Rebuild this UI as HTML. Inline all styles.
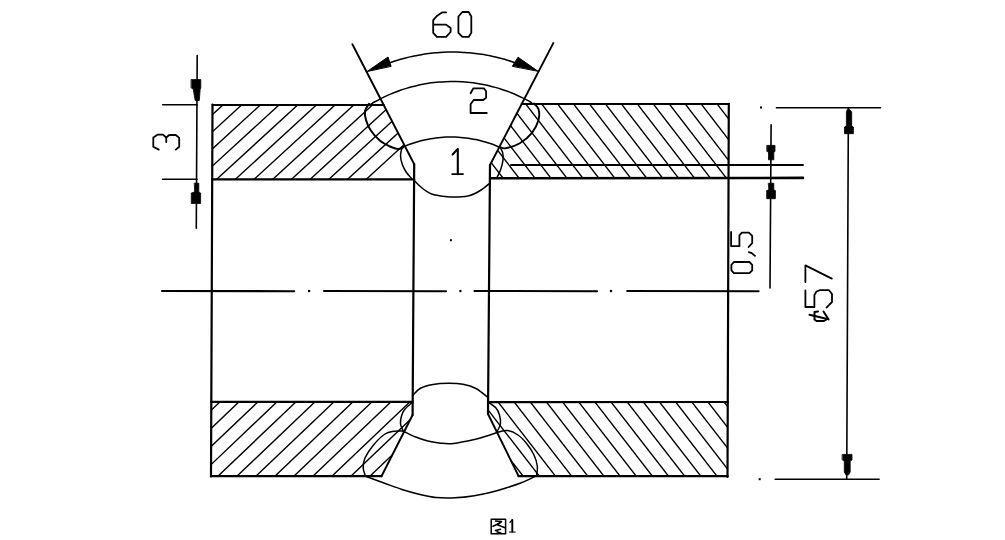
<!DOCTYPE html>
<html><head><meta charset="utf-8"><style>
html,body{margin:0;padding:0;background:#fff;width:1005px;height:540px;overflow:hidden;font-family:"Liberation Sans",sans-serif;}
svg{display:block;}
</style></head><body>
<svg width="1005" height="540" viewBox="0 0 1005 540">
<defs><clipPath id="ctl"><path d="M212.50,105.00 L383.71,105.00 L414.20,164.20 L414.20,179.40 L212.30,179.40 Z"/></clipPath><clipPath id="ctr"><path d="M521.57,104.20 L728.80,104.20 L728.60,178.20 L490.00,178.20 L490.00,165.00 Z"/></clipPath><clipPath id="cbl"><path d="M211.20,402.20 L412.60,402.20 L412.60,415.00 L381.50,476.00 L210.90,476.00 Z"/></clipPath><clipPath id="cbr"><path d="M488.00,402.30 L727.80,402.30 L727.60,476.00 L518.60,476.00 L488.00,414.00 Z"/></clipPath></defs>
<g fill="none" stroke="#000" stroke-width="2.0" stroke-linecap="round" stroke-linejoin="round">
<path clip-path="url(#ctl)" stroke-width="1.4" d="M116.11,100.00 L23.46,185.00 M134.81,100.00 L42.16,185.00 M153.51,100.00 L60.86,185.00 M172.21,100.00 L79.56,185.00 M190.91,100.00 L98.25,185.00 M209.61,100.00 L116.96,185.00 M228.31,100.00 L135.66,185.00 M247.00,100.00 L154.35,185.00 M265.70,100.00 L173.06,185.00 M284.40,100.00 L191.75,185.00 M303.10,100.00 L210.45,185.00 M321.80,100.00 L229.15,185.00 M340.50,100.00 L247.86,185.00 M359.20,100.00 L266.56,185.00 M377.90,100.00 L285.25,185.00 M396.60,100.00 L303.95,185.00 M415.30,100.00 L322.65,185.00 M434.00,100.00 L341.36,185.00 M452.70,100.00 L360.05,185.00"/>
<path clip-path="url(#ctr)" stroke-width="1.4" d="M395.07,100.00 L460.52,185.00 M411.02,100.00 L476.47,185.00 M426.97,100.00 L492.42,185.00 M442.92,100.00 L508.37,185.00 M458.87,100.00 L524.32,185.00 M474.82,100.00 L540.27,185.00 M490.77,100.00 L556.22,185.00 M506.72,100.00 L572.17,185.00 M522.67,100.00 L588.12,185.00 M538.62,100.00 L604.07,185.00 M554.57,100.00 L620.02,185.00 M570.52,100.00 L635.97,185.00 M586.47,100.00 L651.92,185.00 M602.42,100.00 L667.87,185.00 M618.37,100.00 L683.82,185.00 M634.32,100.00 L699.77,185.00 M650.27,100.00 L715.72,185.00 M666.22,100.00 L731.67,185.00 M682.17,100.00 L747.62,185.00 M698.12,100.00 L763.57,185.00 M714.07,100.00 L779.52,185.00 M730.02,100.00 L795.47,185.00 M745.97,100.00 L811.42,185.00"/>
<path clip-path="url(#cbl)" stroke-width="1.4" d="M129.01,398.00 L42.91,480.00 M148.01,398.00 L61.91,480.00 M167.01,398.00 L80.91,480.00 M186.01,398.00 L99.91,480.00 M205.01,398.00 L118.91,480.00 M224.01,398.00 L137.91,480.00 M243.01,398.00 L156.91,480.00 M262.01,398.00 L175.91,480.00 M281.01,398.00 L194.91,480.00 M300.01,398.00 L213.91,480.00 M319.01,398.00 L232.91,480.00 M338.01,398.00 L251.91,480.00 M357.01,398.00 L270.91,480.00 M376.01,398.00 L289.91,480.00 M395.01,398.00 L308.91,480.00 M414.01,398.00 L327.91,480.00 M433.01,398.00 L346.91,480.00 M452.01,398.00 L365.91,480.00 M471.01,398.00 L384.91,480.00"/>
<path clip-path="url(#cbr)" stroke-width="1.4" d="M398.01,398.00 L461.56,480.00 M414.16,398.00 L477.71,480.00 M430.31,398.00 L493.86,480.00 M446.46,398.00 L510.01,480.00 M462.61,398.00 L526.16,480.00 M478.76,398.00 L542.31,480.00 M494.91,398.00 L558.46,480.00 M511.06,398.00 L574.61,480.00 M527.21,398.00 L590.76,480.00 M543.36,398.00 L606.91,480.00 M559.51,398.00 L623.06,480.00 M575.66,398.00 L639.21,480.00 M591.81,398.00 L655.36,480.00 M607.96,398.00 L671.51,480.00 M624.11,398.00 L687.66,480.00 M640.26,398.00 L703.81,480.00 M656.41,398.00 L719.96,480.00 M672.56,398.00 L736.11,480.00 M688.71,398.00 L752.26,480.00 M704.86,398.00 L768.41,480.00 M721.01,398.00 L784.56,480.00 M737.16,398.00 L800.71,480.00 M753.31,398.00 L816.86,480.00"/>
<path d="M212.50,104.50 L211.00,476.50" stroke-width="2.2"/>
<path d="M728.80,103.80 L727.50,477.00" stroke-width="2.2"/>
<path d="M212.50,105.00 L383.71,105.00" stroke-width="2.2"/>
<path d="M521.68,104.00 L728.80,104.00" stroke-width="2.2"/>
<path d="M212.30,179.40 L414.20,179.40" stroke-width="2.2"/>
<path d="M490.00,178.20 L803.00,177.90" stroke-width="2.6"/>
<path d="M511.00,165.00 L803.00,165.00" stroke-width="1.8"/>
<path d="M352.40,44.20 L414.20,164.20" stroke-width="1.9"/>
<path d="M553.30,43.10 L490.00,165.00" stroke-width="1.9"/>
<path d="M414.20,164.20 L412.60,415.00" stroke-width="2.2"/>
<path d="M490.00,165.00 L488.00,414.00" stroke-width="2.2"/>
<path d="M211.20,401.90 L412.60,401.90" stroke-width="2.2"/>
<path d="M488.00,402.10 L727.80,402.00" stroke-width="2.2"/>
<path d="M210.90,476.20 L381.50,476.20" stroke-width="2.2"/>
<path d="M518.60,476.20 L727.60,476.20" stroke-width="2.2"/>
<path d="M412.60,415.00 L381.50,476.20" stroke-width="1.9"/>
<path d="M488.00,414.00 L518.60,476.20" stroke-width="1.9"/>
<path d="M389.49,62.87 C390.16,62.64 392.17,61.94 393.51,61.49 C394.86,61.05 396.21,60.62 397.57,60.20 C398.93,59.79 400.29,59.39 401.65,59.01 C403.02,58.62 404.39,58.25 405.76,57.90 C407.14,57.55 408.52,57.21 409.90,56.89 C411.28,56.57 412.66,56.26 414.05,55.97 C415.44,55.68 416.83,55.41 418.23,55.15 C419.62,54.89 421.02,54.65 422.42,54.42 C423.82,54.19 425.22,53.98 426.63,53.79 C428.03,53.59 429.44,53.41 430.85,53.25 C432.26,53.09 433.67,52.94 435.08,52.81 C436.50,52.68 437.91,52.56 439.32,52.46 C440.74,52.36 442.16,52.28 443.57,52.21 C444.99,52.14 446.41,52.09 447.83,52.06 C449.24,52.02 450.66,52.00 452.08,52.00 C453.50,52.00 454.92,52.01 456.34,52.04 C457.75,52.07 459.17,52.11 460.59,52.17 C462.01,52.24 463.42,52.31 464.84,52.41 C466.25,52.50 467.67,52.61 469.08,52.73 C470.50,52.86 471.91,53.00 473.32,53.16 C474.73,53.31 476.13,53.49 477.54,53.68 C478.95,53.86 480.35,54.07 481.75,54.29 C483.15,54.51 484.55,54.75 485.95,55.00 C487.34,55.25 488.74,55.52 490.13,55.80 C491.52,56.09 492.90,56.39 494.29,56.70 C495.67,57.02 497.05,57.35 498.42,57.70 C499.80,58.04 501.17,58.40 502.54,58.78 C503.91,59.16 505.27,59.55 506.63,59.96 C507.99,60.37 509.34,60.79 510.69,61.23 C512.04,61.67 514.05,62.37 514.72,62.60" stroke-width="1.5"/>
<path d="M367.20,71.40 L388.00,57.00 L391.00,66.00 Z" stroke-width="1.0" fill="#000"/>
<path d="M537.80,71.10 L518.00,57.20 L512.50,66.00 Z" stroke-width="1.0" fill="#000"/>
<path d="M370.51,104.35 C371.33,103.88 373.74,102.44 375.38,101.53 C377.02,100.61 378.68,99.73 380.35,98.87 C382.02,98.02 383.71,97.20 385.41,96.40 C387.11,95.61 388.82,94.84 390.55,94.11 C392.27,93.38 394.02,92.67 395.77,92.00 C397.52,91.33 399.28,90.69 401.06,90.08 C402.83,89.47 404.62,88.89 406.42,88.35 C408.21,87.80 410.02,87.29 411.83,86.81 C413.64,86.33 415.47,85.88 417.30,85.46 C419.12,85.04 420.96,84.66 422.81,84.31 C424.65,83.95 426.50,83.64 428.35,83.35 C430.21,83.06 432.07,82.81 433.93,82.59 C435.79,82.37 437.66,82.18 439.53,82.03 C441.40,81.88 443.28,81.76 445.15,81.67 C447.02,81.58 448.90,81.53 450.78,81.51 C452.65,81.49 454.53,81.50 456.41,81.55 C458.28,81.59 460.16,81.67 462.03,81.79 C463.90,81.90 465.78,82.05 467.64,82.23 C469.51,82.40 471.38,82.62 473.24,82.86 C475.10,83.11 476.95,83.39 478.80,83.70 C480.65,84.01 482.50,84.35 484.34,84.73 C486.17,85.11 488.01,85.52 489.83,85.96 C491.65,86.40 493.47,86.88 495.28,87.38 C497.08,87.89 498.88,88.43 500.67,89.00 C502.46,89.57 504.24,90.17 506.00,90.80 C507.77,91.44 509.52,92.10 511.27,92.80 C513.01,93.49 514.74,94.22 516.46,94.98 C518.17,95.73 519.88,96.52 521.57,97.34 C523.25,98.16 524.93,99.00 526.59,99.88 C528.25,100.76 530.70,102.15 531.52,102.60" stroke-width="1.5"/>
<path d="M369.00,103.80 C368.33,105.00 365.50,108.30 365.00,111.00 C364.50,113.70 365.08,116.83 366.00,120.00 C366.92,123.17 368.20,126.57 370.50,130.00 C372.80,133.43 376.55,137.85 379.80,140.60 C383.05,143.35 386.97,145.10 390.00,146.50 C393.03,147.90 395.83,148.83 398.00,149.00 C400.17,149.17 402.17,147.75 403.00,147.50" stroke-width="2.0"/>
<path d="M534.00,103.60 C534.75,104.50 537.75,106.27 538.50,109.00 C539.25,111.73 539.58,116.03 538.50,120.00 C537.42,123.97 535.12,128.93 532.00,132.80 C528.88,136.67 524.20,140.62 519.80,143.20 C515.40,145.78 508.95,147.67 505.60,148.30 C502.25,148.93 500.68,147.22 499.70,147.00" stroke-width="1.9"/>
<path d="M401.98,147.45 C402.75,147.13 405.05,146.12 406.61,145.50 C408.16,144.88 409.74,144.29 411.32,143.74 C412.90,143.19 414.49,142.67 416.09,142.18 C417.70,141.69 419.31,141.24 420.93,140.82 C422.55,140.40 424.18,140.02 425.82,139.67 C427.46,139.32 429.11,139.00 430.76,138.72 C432.41,138.43 434.07,138.19 435.73,137.97 C437.39,137.76 439.05,137.58 440.72,137.44 C442.39,137.30 444.06,137.19 445.74,137.12 C447.41,137.04 449.09,137.00 450.76,137.00 C452.44,137.00 454.11,137.03 455.79,137.10 C457.46,137.16 459.13,137.26 460.80,137.40 C462.47,137.54 464.14,137.71 465.80,137.91 C467.46,138.12 469.12,138.36 470.77,138.64 C472.43,138.91 474.07,139.22 475.71,139.57 C477.35,139.91 478.98,140.29 480.61,140.70 C482.23,141.12 483.85,141.56 485.45,142.04 C487.06,142.52 488.65,143.04 490.23,143.58 C491.82,144.13 493.39,144.71 494.95,145.32 C496.51,145.93 498.81,146.93 499.59,147.26" stroke-width="1.5"/>
<path d="M402.00,147.50 C401.75,148.92 400.42,153.08 400.50,156.00 C400.58,158.92 401.50,162.25 402.50,165.00 C403.50,167.75 405.00,170.25 406.50,172.50 C408.00,174.75 410.67,177.50 411.50,178.50" stroke-width="1.5"/>
<path d="M499.50,147.00 C500.00,147.83 501.92,149.83 502.50,152.00 C503.08,154.17 503.33,157.00 503.00,160.00 C502.67,163.00 501.58,166.95 500.50,170.00 C499.42,173.05 497.17,176.92 496.50,178.30" stroke-width="1.5"/>
<path d="M414.20,180.50 C415.50,181.75 419.08,185.75 422.00,188.00 C424.92,190.25 427.87,192.58 431.70,194.00 C435.53,195.42 440.62,196.00 445.00,196.50 C449.38,197.00 453.83,197.17 458.00,197.00 C462.17,196.83 466.17,196.67 470.00,195.50 C473.83,194.33 477.67,192.08 481.00,190.00 C484.33,187.92 488.50,184.17 490.00,183.00" stroke-width="1.5"/>
<path d="M412.60,395.80 C413.83,394.58 416.60,390.38 420.00,388.50 C423.40,386.62 428.25,385.37 433.00,384.50 C437.75,383.63 443.50,383.33 448.50,383.30 C453.50,383.27 458.42,383.43 463.00,384.30 C467.58,385.17 471.83,386.30 476.00,388.50 C480.17,390.70 486.00,396.00 488.00,397.50" stroke-width="1.5"/>
<path d="M412.60,402.20 C411.33,403.33 406.85,406.70 405.00,409.00 C403.15,411.30 402.25,413.50 401.50,416.00 C400.75,418.50 400.22,421.50 400.50,424.00 C400.78,426.50 402.75,429.83 403.20,431.00" stroke-width="1.5"/>
<path d="M488.50,402.30 C489.75,403.25 494.17,405.88 496.00,408.00 C497.83,410.12 498.77,412.33 499.50,415.00 C500.23,417.67 500.85,421.17 500.40,424.00 C499.95,426.83 497.40,430.67 496.80,432.00" stroke-width="1.5"/>
<path d="M403.50,431.20 C405.42,432.13 410.95,435.17 415.00,436.80 C419.05,438.43 423.52,439.93 427.80,441.00 C432.08,442.07 436.38,442.80 440.70,443.20 C445.02,443.60 448.08,444.02 453.70,443.40 C459.32,442.78 469.18,440.65 474.40,439.50 C479.62,438.35 481.10,437.72 485.00,436.50 C488.90,435.28 495.67,432.92 497.80,432.20" stroke-width="1.5"/>
<path d="M403.50,430.90 C401.92,430.95 397.08,430.68 394.00,431.20 C390.92,431.72 388.45,431.67 385.00,434.00 C381.55,436.33 376.63,441.20 373.30,445.20 C369.97,449.20 366.68,454.20 365.00,458.00 C363.32,461.80 363.10,464.95 363.20,468.00 C363.30,471.05 365.20,474.92 365.60,476.30" stroke-width="1.5"/>
<path d="M497.80,432.20 C499.42,431.92 504.13,430.03 507.50,430.50 C510.87,430.97 514.75,432.75 518.00,435.00 C521.25,437.25 524.33,440.67 527.00,444.00 C529.67,447.33 532.28,451.33 534.00,455.00 C535.72,458.67 536.85,462.58 537.30,466.00 C537.75,469.42 536.80,473.92 536.70,475.50" stroke-width="1.5"/>
<path d="M365.60,476.30 C368.67,477.42 377.93,480.80 384.00,483.00 C390.07,485.20 396.00,487.58 402.00,489.50 C408.00,491.42 414.33,493.17 420.00,494.50 C425.67,495.83 430.17,496.95 436.00,497.50 C441.83,498.05 448.60,498.10 455.00,497.80 C461.40,497.50 468.23,496.67 474.40,495.70 C480.57,494.73 486.73,493.28 492.00,492.00 C497.27,490.72 501.00,489.58 506.00,488.00 C511.00,486.42 516.88,484.58 522.00,482.50 C527.12,480.42 534.25,476.67 536.70,475.50" stroke-width="1.5"/>
<path d="M162.00,291.00 L294.20,291.20" stroke-width="2.1"/>
<path d="M324.00,291.00 L446.00,291.20" stroke-width="2.1"/>
<path d="M474.50,291.00 L597.00,291.20" stroke-width="2.1"/>
<path d="M627.20,291.00 L758.60,291.20" stroke-width="2.1"/>
<rect x="308.0" y="289.9" width="2.2" height="2.2" fill="#000" stroke="none"/>
<rect x="459.29999999999995" y="289.9" width="2.2" height="2.2" fill="#000" stroke="none"/>
<rect x="609.9" y="289.9" width="2.2" height="2.2" fill="#000" stroke="none"/>
<path d="M162.70,104.80 L197.00,104.80" stroke-width="1.6"/>
<path d="M162.60,179.30 L197.00,179.30" stroke-width="1.6"/>
<path d="M197.20,55.60 L196.30,228.30" stroke-width="1.6"/>
<path d="M191.40,79.60 L200.80,79.60 L200.80,88.00 L200.20,89.00 L199.30,100.50 L195.20,100.50 L193.20,89.00 L191.40,88.00 Z" stroke-width="0.8" fill="#000"/>
<path d="M194.60,183.20 L198.80,183.20 L198.80,192.00 L200.60,193.00 L200.60,203.50 L191.30,203.50 L191.30,193.00 L194.40,192.00 Z" stroke-width="0.8" fill="#000"/>
<path d="M771.10,124.80 L770.00,288.00" stroke-width="1.6"/>
<path d="M767.10,145.40 L775.00,145.40 L775.00,151.50 L773.80,152.00 L773.80,159.80 L768.50,159.80 L768.50,152.00 L767.10,151.50 Z" stroke-width="0.8" fill="#000"/>
<path d="M768.60,183.30 L773.80,183.30 L773.80,190.00 L775.40,190.50 L775.40,198.70 L766.70,198.70 L766.70,190.50 L768.60,190.00 Z" stroke-width="0.8" fill="#000"/>
<path d="M776.40,107.70 L880.50,107.70" stroke-width="1.6"/>
<path d="M775.20,479.30 L879.10,479.30" stroke-width="1.6"/>
<path d="M848.40,107.70 L846.70,479.30" stroke-width="1.6"/>
<path d="M847.60,109.50 L849.50,109.50 L851.70,112.00 L851.70,126.00 L853.40,127.00 L853.40,133.70 L844.50,133.70 L844.50,127.00 L846.40,126.00 L846.40,112.00 Z" stroke-width="0.8" fill="#000"/>
<path d="M842.50,454.40 L852.00,454.40 L852.00,460.00 L850.20,461.00 L850.20,472.00 L848.50,475.00 L846.00,475.00 L844.30,472.00 L844.30,461.00 L842.50,460.00 Z" stroke-width="0.8" fill="#000"/>
<rect x="760" y="106.5" width="2" height="2" fill="#000" stroke="none"/>
<rect x="758.7" y="478.2" width="2" height="2" fill="#000" stroke="none"/>
<rect x="449.9" y="239.2" width="2" height="2" fill="#000" stroke="none"/>
<path d="M446.10,12.40 L442.00,12.40 L437.20,15.70 L433.20,20.20 L433.20,32.80 L436.90,36.90 L446.10,36.90 L450.60,32.00 L450.60,28.00 L446.10,24.60 L433.20,24.60" stroke-width="1.8"/>
<path d="M462.40,12.00 L468.70,12.00 L471.30,16.50 L471.30,32.80 L468.70,36.90 L462.40,36.90 L458.40,32.80 L458.40,16.50 Z" stroke-width="1.8"/>
<path d="M470.60,93.30 L473.40,88.30 L483.90,88.30 L486.10,91.20 L486.10,97.80 L483.20,100.00 L473.70,100.00 L470.60,104.20 L470.60,113.00 L486.80,113.00" stroke-width="1.8"/>
<path d="M452.60,154.50 L457.80,148.90 L457.80,174.10" stroke-width="2.1"/>
<path d="M452.20,174.10 L463.00,174.10" stroke-width="1.8"/>
<path d="M158.75,149.60 L153.30,146.70 L153.30,137.50 L157.90,134.60 L162.90,134.60 L166.25,137.50 L166.25,142.10" stroke-width="1.8"/>
<path d="M166.25,137.50 L169.20,135.00 L175.80,135.00 L179.20,137.90 L179.20,146.70 L175.80,149.60" stroke-width="1.8"/>
<path d="M733.90,262.00 L749.40,262.00 L752.20,264.80 L752.20,270.30 L749.40,273.10 L733.90,273.10 L731.40,270.30 L731.40,264.80 Z" stroke-width="1.8"/>
<path d="M748.90,252.20 L751.70,253.10 L755.00,255.90" stroke-width="1.8"/>
<path d="M731.10,232.00 L731.10,246.20 L739.40,246.20 L739.40,235.30 L741.90,232.60 L748.90,232.60 L752.20,235.90 L752.20,243.10 L748.60,247.00" stroke-width="1.8"/>
<path d="M805.40,282.00 L805.40,265.40 L831.80,278.60" stroke-width="1.8"/>
<path d="M805.40,290.40 L805.40,307.00 L814.40,307.00 L814.40,295.00 L816.50,291.50 L820.00,290.20 L829.00,290.20 L832.00,294.00 L832.00,302.00 L826.50,307.60" stroke-width="1.8"/>
<path d="M809.50,314.80 L828.50,319.30" stroke-width="2.2"/>
<path d="M818.00,311.50 L814.50,312.00 L814.50,319.50 L816.50,321.00 L824.00,321.00 L828.00,318.50 L823.50,311.50" stroke-width="2.0"/>
<rect x="491.2" y="519.2" width="14.4" height="14.6" fill="none" stroke-width="1.5"/>
<path d="M493.00,526.20 L499.50,523.20" stroke-width="1.7"/>
<path d="M495.50,521.00 L501.50,521.60 L497.50,524.50" stroke-width="1.6"/>
<path d="M498.00,525.00 L505.00,527.80" stroke-width="1.7"/>
<path d="M495.50,530.60 L500.50,529.20" stroke-width="1.6"/>
<path d="M497.00,531.80 L501.20,533.20" stroke-width="1.7"/>
<path d="M510.00,522.20 L512.30,520.00" stroke-width="1.3"/>
<path d="M512.30,520.00 L512.30,531.80" stroke-width="1.9"/>
<path d="M509.50,532.00 L515.20,532.00" stroke-width="1.2"/>
</g>
</svg>
</body></html>
